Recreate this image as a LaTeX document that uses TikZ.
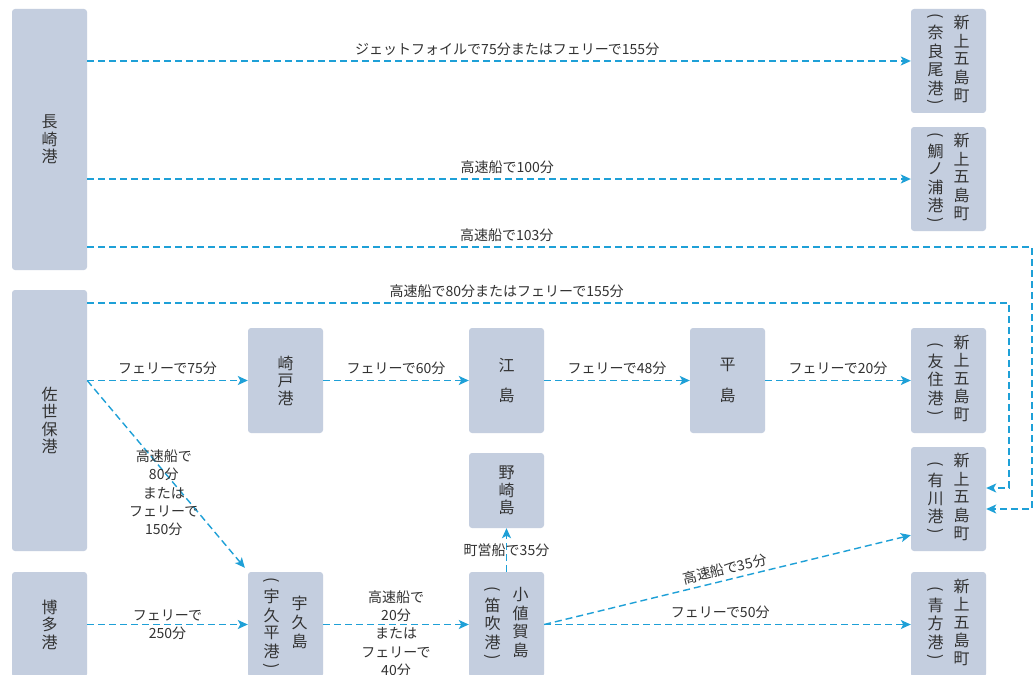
\documentclass[tikz,border=0pt]{standalone}
\usepackage{fontspec}
\usepackage{graphicx}
\setmainfont{Noto Sans CJK JP}
\usetikzlibrary{arrows.meta}
\definecolor{boxfill}{RGB}{196,206,223}
\definecolor{arrowc}{RGB}{30,160,215}
\definecolor{txtc}{RGB}{50,50,50}
\newcommand{\vcol}[1]{\begin{tabular}[c]{@{}c@{}}#1\end{tabular}}
\newcommand{\vop}{\rotatebox[origin=c]{-90}{(}}
\newcommand{\vcp}{\rotatebox[origin=c]{-90}{)}}
\newcommand{\pcol}[1]{\vcol{\vop\\[-1.5pt]#1\\[-4.2pt]\vcp}}
\begin{document}
\begin{tikzpicture}[x=1pt,y=-1pt,
  port/.style={fill=boxfill, rounded corners=3pt, inner sep=0pt, minimum width=75pt,
    text=txtc, font=\fontsize{16}{17.5}\selectfont, align=center},
  route/.style={arrowc, line width=1.4pt, dash pattern=on 7pt off 4pt,
    -{Stealth[length=10pt,width=9pt,inset=2.5pt]}},
  lbl/.style={text=txtc, font=\fontsize{14}{18.3}\selectfont, align=center, inner sep=1pt}]
\fill[white] (0,0) rectangle (1035,674);
\clip (0,0) rectangle (1035,674);
% left column
\node[port, minimum height=261pt] (nagasaki) at (49.5,139.5) {長\\崎\\港};
\node[port, minimum height=261pt] (sasebo) at (49.5,420.5) {佐\\世\\保\\港};
\node[port, minimum height=105pt] (hakata) at (49.5,624.5) {博\\多\\港};
% second column
\node[port, minimum height=105pt] (sakito) at (285.5,380.5) {崎\\戸\\港};
\node[port, minimum height=105pt] (uku) at (285.5,624.5)
  {\pcol{宇\\久\\平\\港}\hspace{12pt}\vcol{宇\\久\\島}};
% third column
\node[port, minimum height=105pt] (ejima) at (506.5,380.5) {江\\[13pt]島};
\node[port, minimum height=75pt] (nozaki) at (506.5,490.5) {野\\崎\\島};
\node[port, minimum height=105pt] (ojika) at (506.5,624.5)
  {\pcol{笛\\吹\\港}\hspace{12pt}\vcol{小\\値\\賀\\島}};
% fourth column
\node[port, minimum height=105pt] (hira) at (727.5,380.5) {平\\[13pt]島};
% right column
\node[port, minimum height=104pt] (naraoo) at (948.5,61)
  {\pcol{奈\\良\\尾\\港}\hspace{10pt}\vcol{新\\上\\五\\島\\町}};
\node[port, minimum height=104pt] (tainoura) at (948.5,179)
  {\pcol{鯛\\ノ\\浦\\港}\hspace{10pt}\vcol{新\\上\\五\\島\\町}};
\node[port, minimum height=105pt] (tomosumi) at (948.5,380.5)
  {\pcol{友\\住\\港}\hspace{10pt}\vcol{新\\上\\五\\島\\町}};
\node[port, minimum height=104pt] (arikawa) at (948.5,499)
  {\pcol{有\\川\\港}\hspace{10pt}\vcol{新\\上\\五\\島\\町}};
\node[port, minimum height=105pt] (aokata) at (948.5,624.5)
  {\pcol{青\\方\\港}\hspace{10pt}\vcol{新\\上\\五\\島\\町}};
% coordinates for the long routes
\coordinate (a1) at (1032,247);
\coordinate (a2) at (1032,509);
\coordinate (b1) at (1009,303);
\coordinate (b2) at (1009,488);
% routes from Nagasaki
\draw[route] (nagasaki.east |- naraoo.west) -- node[lbl, pos=0.51, above=4pt]
  {ジェットフォイルで75分またはフェリーで155分} (naraoo.west);
\draw[route] (nagasaki.east |- tainoura.west) -- node[lbl, pos=0.51, above=4pt]
  {高速船で100分} (tainoura.west);
\draw[route] (nagasaki.east |- a1) -- node[lbl, pos=0.444, above=4pt] {高速船で103分}
  (a1) -- (a2) -- (arikawa.east |- a2);
% routes from Sasebo
\draw[route] (sasebo.east |- b1) -- node[lbl, pos=0.455, above=4pt]
  {高速船で80分またはフェリーで155分} (b1) -- (b2) -- (arikawa.east |- b2);
\draw[route] (sasebo.east |- sakito.west) -- node[lbl, midway, above=4pt] {フェリーで75分} (sakito.west);
\draw[route] (sasebo.east |- sakito.west) -- node[lbl, pos=0.6, xshift=-18pt]
  {高速船で\\80分\\または\\フェリーで\\150分} ([xshift=-3pt,yshift=4pt]uku.north west);
% chain to Tomosumi
\draw[route] (sakito.east) -- node[lbl, midway, above=4pt] {フェリーで60分} (ejima.west);
\draw[route] (ejima.east) -- node[lbl, midway, above=4pt] {フェリーで48分} (hira.west);
\draw[route] (hira.east) -- node[lbl, midway, above=4pt] {フェリーで20分} (tomosumi.west);
% Hakata
\draw[route] (hakata.east |- uku.west) -- node[lbl, midway] {フェリーで\\250分} (uku.west);
% Uku -> Ojika
\draw[route] (uku.east) -- node[lbl, midway, yshift=-9pt]
  {高速船で\\20分\\または\\フェリーで\\40分} (ojika.west);
% Ojika routes
\draw[route] (ojika.north) -- node[lbl, midway] {町営船で35分} (nozaki.south);
\draw[route] (ojika.east) -- node[lbl, midway, above=3pt, sloped] {高速船で35分}
  ([yshift=16pt]arikawa.south west);
\draw[route] (ojika.east) -- node[lbl, pos=0.48, above=4pt] {フェリーで50分} (aokata.west);
\end{tikzpicture}
\end{document}
